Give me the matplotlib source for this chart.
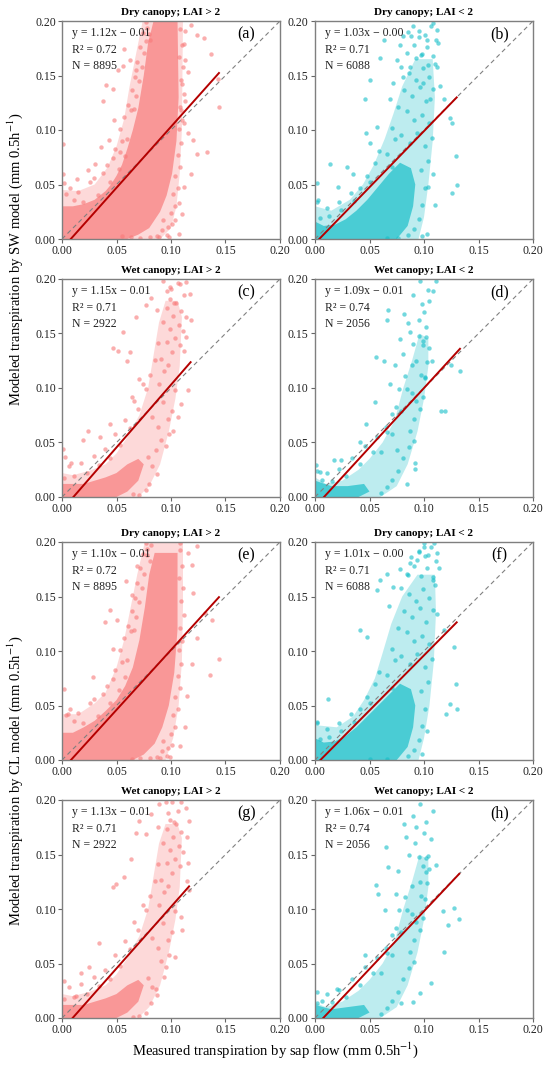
import numpy as np
import matplotlib
matplotlib.use('Agg')
import matplotlib.pyplot as plt
from matplotlib.ticker import FormatStrFormatter

plt.rcParams['font.family'] = ['Liberation Serif', 'DejaVu Serif']
plt.rcParams['mathtext.fontset'] = 'stix'

# panel headers and fit statistics (SW rows first, then CL rows)
letters = ['(a)', '(b)', '(c)', '(d)', '(e)', '(f)', '(g)', '(h)']
titles = ['Dry canopy; LAI > 2', 'Dry canopy; LAI < 2',
          'Wet canopy; LAI > 2', 'Wet canopy; LAI < 2'] * 2
slopes = [1.12, 1.03, 1.15, 1.09, 1.10, 1.01, 1.13, 1.06]
intercepts = [-0.009, -0.004, -0.012, -0.009, -0.009, -0.005, -0.011, -0.008]
eq_text = ['y = 1.12x \u2212 0.01', 'y = 1.03x \u2212 0.00', 'y = 1.15x \u2212 0.01', 'y = 1.09x \u2212 0.01',
           'y = 1.10x \u2212 0.01', 'y = 1.01x \u2212 0.00', 'y = 1.13x \u2212 0.01', 'y = 1.06x \u2212 0.01']
r2 = ['0.72', '0.71', '0.71', '0.74', '0.72', '0.71', '0.71', '0.74']
n_obs = ['8895', '6088', '2922', '2056', '8895', '6088', '2922', '2056']

# outline of the saturated part of each point cloud (measured, modeled)
core_a = [(0, 0), (0.060, 0), (0.070, 0.004), (0.080, 0.010), (0.090, 0.025), (0.096, 0.040), (0.101, 0.060),
          (0.105, 0.090), (0.107, 0.130), (0.106, 0.200), (0.084, 0.200), (0.079, 0.180), (0.075, 0.150),
          (0.070, 0.120), (0.065, 0.100), (0.060, 0.083), (0.055, 0.068), (0.050, 0.058), (0.045, 0.050),
          (0.040, 0.044), (0.030, 0.036), (0.020, 0.032), (0.010, 0.030), (0, 0.030)]
halo_a = [(0, 0), (0.090, 0), (0.100, 0.010), (0.105, 0.030), (0.108, 0.060), (0.110, 0.100), (0.111, 0.200),
          (0.074, 0.200), (0.068, 0.170), (0.062, 0.140), (0.057, 0.110), (0.050, 0.085), (0.042, 0.066),
          (0.030, 0.050), (0.015, 0.044), (0, 0.045)]
core_b = [(0, 0), (0.075, 0), (0.085, 0.012), (0.090, 0.030), (0.092, 0.050), (0.088, 0.065), (0.078, 0.070),
          (0.068, 0.060), (0.058, 0.048), (0.048, 0.036), (0.038, 0.026), (0.028, 0.018), (0.018, 0.013),
          (0.008, 0.012), (0, 0.016)]
halo_b = [(0, 0), (0.095, 0), (0.100, 0.020), (0.104, 0.050), (0.108, 0.090), (0.110, 0.130), (0.108, 0.165),
          (0.092, 0.165), (0.080, 0.140), (0.072, 0.115), (0.064, 0.092), (0.054, 0.068), (0.044, 0.050),
          (0.032, 0.036), (0.015, 0.026), (0, 0.030)]
core_c = [(0, 0), (0.050, 0), (0.060, 0.005), (0.070, 0.015), (0.075, 0.030), (0.070, 0.035), (0.060, 0.030),
          (0.050, 0.022), (0.040, 0.018), (0.030, 0.015), (0.020, 0.012), (0, 0.012)]
halo_c = [(0, 0), (0.070, 0), (0.080, 0.010), (0.090, 0.030), (0.098, 0.060), (0.104, 0.090), (0.108, 0.120),
          (0.110, 0.165), (0.106, 0.180), (0.095, 0.180), (0.089, 0.160), (0.084, 0.130), (0.079, 0.100),
          (0.071, 0.075), (0.060, 0.055), (0.050, 0.040), (0.040, 0.030), (0.025, 0.024), (0.010, 0.020),
          (0, 0.022)]
core_d = [(0, 0), (0.040, 0), (0.050, 0.005), (0.045, 0.012), (0.030, 0.010), (0.015, 0.010), (0, 0.015)]
halo_d = [(0, 0), (0.060, 0), (0.075, 0.010), (0.085, 0.030), (0.094, 0.060), (0.100, 0.090), (0.104, 0.120),
          (0.104, 0.145), (0.096, 0.150), (0.089, 0.125), (0.081, 0.100), (0.073, 0.070), (0.062, 0.050),
          (0.050, 0.035), (0.040, 0.025), (0.025, 0.015), (0.010, 0.012), (0, 0.018)]
core_e = [(0, 0), (0.065, 0), (0.075, 0.005), (0.085, 0.015), (0.092, 0.030), (0.098, 0.050), (0.103, 0.080),
          (0.106, 0.120), (0.106, 0.190), (0.085, 0.190), (0.080, 0.170), (0.076, 0.140), (0.071, 0.110),
          (0.065, 0.085), (0.058, 0.068), (0.050, 0.055), (0.040, 0.045), (0.030, 0.036), (0.020, 0.030),
          (0.010, 0.025), (0, 0.025)]
halo_e = [(0, 0), (0.095, 0), (0.102, 0.020), (0.107, 0.050), (0.110, 0.090), (0.111, 0.140), (0.111, 0.200),
          (0.076, 0.200), (0.069, 0.170), (0.063, 0.140), (0.057, 0.110), (0.050, 0.085), (0.040, 0.062),
          (0.030, 0.052), (0.015, 0.042), (0, 0.042)]
core_f = [(0, 0), (0.075, 0), (0.085, 0.012), (0.090, 0.030), (0.092, 0.050), (0.088, 0.065), (0.078, 0.070),
          (0.068, 0.060), (0.058, 0.050), (0.048, 0.040), (0.038, 0.030), (0.028, 0.022), (0.018, 0.017),
          (0.008, 0.016), (0, 0.020)]
halo_f = [(0, 0), (0.095, 0), (0.100, 0.020), (0.105, 0.050), (0.109, 0.090), (0.111, 0.135), (0.110, 0.170),
          (0.094, 0.170), (0.080, 0.150), (0.070, 0.125), (0.062, 0.098), (0.055, 0.075), (0.045, 0.055),
          (0.035, 0.040), (0.020, 0.030), (0, 0.032)]
core_g = [(0, 0), (0.050, 0), (0.060, 0.005), (0.070, 0.015), (0.075, 0.030), (0.070, 0.035), (0.060, 0.030),
          (0.050, 0.022), (0.040, 0.018), (0.030, 0.015), (0.020, 0.012), (0, 0.012)]
halo_g = [(0, 0), (0.070, 0), (0.080, 0.010), (0.090, 0.030), (0.098, 0.060), (0.104, 0.090), (0.108, 0.120),
          (0.110, 0.165), (0.106, 0.178), (0.095, 0.178), (0.089, 0.160), (0.084, 0.130), (0.079, 0.100),
          (0.071, 0.075), (0.060, 0.055), (0.050, 0.040), (0.040, 0.030), (0.025, 0.024), (0.010, 0.020),
          (0, 0.022)]
core_h = [(0, 0), (0.040, 0), (0.050, 0.005), (0.045, 0.012), (0.030, 0.010), (0.015, 0.008), (0, 0.012)]
halo_h = [(0, 0), (0.060, 0), (0.075, 0.010), (0.085, 0.030), (0.094, 0.060), (0.100, 0.090), (0.104, 0.120),
          (0.104, 0.145), (0.096, 0.150), (0.089, 0.125), (0.081, 0.100), (0.073, 0.070), (0.062, 0.050),
          (0.050, 0.035), (0.040, 0.025), (0.025, 0.015), (0.010, 0.010), (0, 0.014)]

# individual points
pts_a_x = [0.001, 0.001, 0.002, 0.014, 0.024, 0.030, 0.040, 0.038, 0.056, 0.057, 0.051, 0.047, 0.048, 0.043,
           0.036, 0.053, 0.077, 0.080, 0.062, 0.068, 0.113, 0.118, 0.124, 0.130, 0.137, 0.143, 0.144, 0.133,
           0.124, 0.120, 0.116, 0.112, 0.109, 0.113, 0.110, 0.116, 0.113, 0.112, 0.118, 0.112, 0.107, 0.110,
           0.104, 0.107, 0.098, 0.089, 0.081, 0.072, 0.063, 0.055]
pts_a_y = [0.087, 0.060, 0.051, 0.055, 0.063, 0.069, 0.141, 0.127, 0.159, 0.174, 0.155, 0.138, 0.109, 0.091,
           0.084, 0.080, 0.182, 0.188, 0.164, 0.155, 0.191, 0.196, 0.187, 0.184, 0.170, 0.147, 0.121, 0.080,
           0.078, 0.091, 0.097, 0.106, 0.118, 0.127, 0.142, 0.153, 0.164, 0.179, 0.060, 0.048, 0.033, 0.023,
           0.017, 0.005, 0.002, 0.002, 0.002, 0.001, 0.002, 0.003]
pts_b_x = [0.0015, 0.003, 0.0138, 0.0214, 0.029, 0.035, 0.047, 0.0505, 0.0566, 0.046, 0.0505, 0.060, 0.063,
           0.069, 0.072, 0.075, 0.081, 0.081, 0.087, 0.093, 0.098, 0.1025, 0.1086, 0.1117, 0.113, 0.112, 0.115,
           0.1056, 0.0995, 0.118, 0.124, 0.126, 0.129, 0.130, 0.126, 0.110, 0.1086, 0.104, 0.1025, 0.098, 0.066,
           0.076, 0.085, 0.095, 0.104, 0.090, 0.078]
pts_b_y = [0.051, 0.036, 0.069, 0.048, 0.066, 0.060, 0.097, 0.088, 0.103, 0.128, 0.146, 0.166, 0.183, 0.128,
           0.143, 0.164, 0.149, 0.186, 0.158, 0.166, 0.170, 0.183, 0.198, 0.192, 0.180, 0.158, 0.140, 0.128,
           0.143, 0.128, 0.111, 0.106, 0.076, 0.050, 0.042, 0.031, 0.060, 0.048, 0.005, 0.003, 0.001, 0.001,
           0.190, 0.185, 0.160, 0.195, 0.178]
pts_c_x = [0.001, 0.003, 0.0085, 0.019, 0.024, 0.0345, 0.044, 0.047, 0.056, 0.051, 0.062, 0.060, 0.064, 0.071,
           0.068, 0.077, 0.082, 0.0925, 0.100, 0.108, 0.114, 0.112, 0.117, 0.114, 0.118, 0.114, 0.112, 0.116,
           0.109, 0.106, 0.102, 0.086, 0.080, 0.077, 0.071, 0.065, 0.096, 0.103, 0.099, 0.087, 0.106]
pts_c_y = [0.044, 0.037, 0.031, 0.052, 0.061, 0.055, 0.067, 0.137, 0.151, 0.134, 0.133, 0.125, 0.092, 0.108,
           0.165, 0.176, 0.183, 0.198, 0.191, 0.195, 0.197, 0.185, 0.186, 0.165, 0.162, 0.147, 0.134, 0.098,
           0.085, 0.073, 0.061, 0.043, 0.012, 0.006, 0.0015, 0.003, 0.189, 0.178, 0.193, 0.172, 0.196]
pts_d_x = [0.001, 0.0046, 0.017, 0.024, 0.041, 0.047, 0.055, 0.056, 0.063, 0.067, 0.066, 0.069, 0.073, 0.081,
           0.082, 0.087, 0.095, 0.096, 0.098, 0.105, 0.108, 0.111, 0.102, 0.099, 0.090, 0.093, 0.101, 0.107,
           0.116, 0.119, 0.133, 0.125, 0.092, 0.092, 0.084, 0.075, 0.100, 0.090, 0.085, 0.104, 0.078]
pts_d_y = [0.029, 0.023, 0.034, 0.034, 0.050, 0.067, 0.087, 0.128, 0.125, 0.172, 0.162, 0.104, 0.121, 0.131,
           0.168, 0.151, 0.162, 0.198, 0.177, 0.180, 0.189, 0.198, 0.156, 0.143, 0.140, 0.125, 0.110, 0.125,
           0.079, 0.079, 0.116, 0.121, 0.031, 0.026, 0.012, 0.043, 0.170, 0.185, 0.160, 0.190, 0.145]
pts_e_x = [0.0015, 0.0055, 0.0286, 0.039, 0.044, 0.047, 0.050, 0.064, 0.059, 0.0685, 0.078, 0.082, 0.108,
           0.116, 0.124, 0.119, 0.120, 0.131, 0.1376, 0.144, 0.1355, 0.124, 0.119, 0.1146, 0.113, 0.108, 0.099,
           0.090, 0.081, 0.072, 0.064]
pts_e_y = [0.065, 0.042, 0.076, 0.127, 0.138, 0.102, 0.128, 0.151, 0.164, 0.178, 0.188, 0.1975, 0.199, 0.190,
           0.196, 0.179, 0.153, 0.1345, 0.128, 0.093, 0.078, 0.1115, 0.088, 0.059, 0.030, 0.013, 0.0025, 0.002,
           0.002, 0.002, 0.001]
pts_f_x = [0.0123, 0.0015, 0.0415, 0.0476, 0.0568, 0.060, 0.066, 0.072, 0.0676, 0.0876, 0.0937, 0.0998, 0.109,
           0.112, 0.1137, 0.112, 0.118, 0.1275, 0.129, 0.130, 0.124, 0.1198, 0.103, 0.098, 0.050, 0.066, 0.104,
           0.095, 0.085, 0.108, 0.078, 0.100]
pts_f_y = [0.056, 0.035, 0.119, 0.1127, 0.156, 0.165, 0.171, 0.159, 0.141, 0.1806, 0.1837, 0.199, 0.199, 0.190,
           0.176, 0.134, 0.119, 0.104, 0.070, 0.047, 0.0516, 0.0424, 0.027, 0.0055, 0.001, 0.001, 0.188, 0.192,
           0.170, 0.165, 0.175, 0.195]
pts_g_x = [0.0015, 0.013, 0.0177, 0.025, 0.034, 0.0466, 0.0496, 0.057, 0.063, 0.071, 0.068, 0.077, 0.0816,
           0.089, 0.095, 0.101, 0.109, 0.1135, 0.1166, 0.115, 0.116, 0.115, 0.1166, 0.109, 0.1105, 0.104, 0.0938,
           0.086, 0.0816, 0.077, 0.071, 0.065, 0.097, 0.103, 0.088, 0.106]
pts_g_y = [0.0335, 0.020, 0.041, 0.047, 0.0685, 0.120, 0.123, 0.129, 0.146, 0.181, 0.170, 0.169, 0.187, 0.196,
           0.198, 0.198, 0.198, 0.193, 0.181, 0.166, 0.142, 0.126, 0.117, 0.093, 0.0807, 0.056, 0.038, 0.027,
           0.0137, 0.0046, 0.0015, 0.001, 0.188, 0.180, 0.175, 0.190]
pts_h_x = [0.0015, 0.0198, 0.0457, 0.0563, 0.058, 0.0654, 0.067, 0.064, 0.0746, 0.076, 0.082, 0.0837, 0.0913,
           0.093, 0.096, 0.102, 0.108, 0.1065, 0.1035, 0.102, 0.096, 0.111, 0.117, 0.1218, 0.1279, 0.1324,
           0.1187, 0.1065, 0.096, 0.0898, 0.0791, 0.090, 0.100, 0.086]
pts_h_y = [0.0137, 0.027, 0.058, 0.122, 0.114, 0.157, 0.1385, 0.099, 0.114, 0.135, 0.178, 0.166, 0.161, 0.175,
           0.1963, 0.180, 0.190, 0.164, 0.149, 0.134, 0.125, 0.140, 0.098, 0.085, 0.1005, 0.091, 0.061, 0.032,
           0.023, 0.015, 0.0137, 0.185, 0.170, 0.150]

# loose points inside the thinner parts of the clouds, the same observations in the SW and CL panels
cloud_dry_hi_x = [0.004, 0.011, 0.007, 0.019, 0.026, 0.015, 0.033, 0.029, 0.038, 0.044, 0.041, 0.047, 0.052,
                  0.049, 0.055, 0.058, 0.053, 0.060, 0.057, 0.063, 0.061, 0.066, 0.064, 0.068, 0.067, 0.071,
                  0.069, 0.073, 0.072, 0.075, 0.074, 0.078, 0.081, 0.077, 0.108, 0.110, 0.107, 0.111, 0.109,
                  0.112, 0.108, 0.110, 0.107, 0.109, 0.106, 0.108, 0.104, 0.106, 0.102, 0.104, 0.100, 0.101,
                  0.097, 0.096, 0.092, 0.087, 0.093]
cloud_dry_hi_y = [0.041, 0.036, 0.047, 0.034, 0.052, 0.043, 0.040, 0.056, 0.061, 0.052, 0.068, 0.074, 0.064,
                  0.083, 0.090, 0.076, 0.101, 0.092, 0.112, 0.118, 0.123, 0.119, 0.137, 0.131, 0.149, 0.145,
                  0.162, 0.158, 0.176, 0.171, 0.189, 0.194, 0.183, 0.199, 0.193, 0.178, 0.167, 0.158, 0.146,
                  0.133, 0.121, 0.109, 0.101, 0.088, 0.077, 0.066, 0.058, 0.047, 0.041, 0.030, 0.024, 0.014,
                  0.011, 0.004, 0.008, 0.003, 0.017]
cloud_dry_lo_x = [0.084, 0.091, 0.097, 0.103, 0.108, 0.088, 0.095, 0.101, 0.106, 0.111, 0.079, 0.086, 0.093,
                  0.099, 0.105, 0.110, 0.082, 0.089, 0.096, 0.102, 0.108, 0.076, 0.084, 0.091, 0.098, 0.105,
                  0.071, 0.079, 0.087, 0.094, 0.101, 0.066, 0.073, 0.059, 0.071, 0.055, 0.050, 0.048, 0.041,
                  0.036, 0.033, 0.024, 0.022, 0.013, 0.011, 0.005, 0.002, 0.097, 0.101, 0.098, 0.095, 0.091,
                  0.085, 0.104, 0.107]
cloud_dry_lo_y = [0.171, 0.178, 0.169, 0.176, 0.168, 0.186, 0.191, 0.187, 0.195, 0.183, 0.158, 0.152, 0.146,
                  0.157, 0.149, 0.161, 0.137, 0.131, 0.139, 0.127, 0.138, 0.121, 0.117, 0.109, 0.114, 0.106,
                  0.102, 0.095, 0.088, 0.097, 0.085, 0.078, 0.092, 0.081, 0.066, 0.070, 0.052, 0.058, 0.047,
                  0.035, 0.042, 0.027, 0.034, 0.021, 0.028, 0.019, 0.034, 0.063, 0.047, 0.031, 0.018, 0.009,
                  0.004, 0.072, 0.093]
cloud_wet_hi_x = [0.089, 0.094, 0.091, 0.097, 0.101, 0.096, 0.104, 0.099, 0.107, 0.093, 0.102, 0.096, 0.105,
                  0.109, 0.099, 0.111, 0.108, 0.088, 0.085, 0.081, 0.077, 0.074, 0.070, 0.066, 0.062, 0.058,
                  0.053, 0.049, 0.044, 0.039, 0.034, 0.029, 0.023, 0.017, 0.011, 0.006, 0.002, 0.083, 0.088,
                  0.091, 0.095, 0.098, 0.101, 0.104, 0.087, 0.083, 0.079, 0.093, 0.097]
cloud_wet_hi_y = [0.104, 0.116, 0.127, 0.121, 0.133, 0.142, 0.146, 0.154, 0.158, 0.161, 0.166, 0.173, 0.178,
                  0.171, 0.182, 0.152, 0.139, 0.141, 0.126, 0.112, 0.099, 0.104, 0.081, 0.088, 0.063, 0.071,
                  0.048, 0.058, 0.036, 0.044, 0.029, 0.038, 0.022, 0.031, 0.019, 0.028, 0.017, 0.073, 0.064,
                  0.052, 0.047, 0.058, 0.079, 0.098, 0.021, 0.028, 0.037, 0.087, 0.072]
cloud_wet_lo_x = [0.061, 0.066, 0.071, 0.074, 0.079, 0.084, 0.089, 0.093, 0.097, 0.101, 0.103, 0.099, 0.095,
                  0.089, 0.083, 0.077, 0.071, 0.065, 0.057, 0.053, 0.046, 0.041, 0.034, 0.028, 0.022, 0.016,
                  0.011, 0.006, 0.002, 0.087, 0.091, 0.096, 0.099, 0.086, 0.081, 0.076, 0.071, 0.066, 0.061,
                  0.091, 0.105, 0.102]
cloud_wet_lo_y = [0.041, 0.060, 0.058, 0.083, 0.079, 0.099, 0.095, 0.088, 0.112, 0.109, 0.124, 0.139, 0.148,
                  0.121, 0.111, 0.099, 0.076, 0.064, 0.055, 0.041, 0.047, 0.030, 0.036, 0.019, 0.026, 0.015,
                  0.022, 0.016, 0.024, 0.061, 0.072, 0.081, 0.092, 0.046, 0.036, 0.024, 0.016, 0.009, 0.004,
                  0.051, 0.137, 0.147]

cores = [core_a, core_b, core_c, core_d, core_e, core_f, core_g, core_h]
halos = [halo_a, halo_b, halo_c, halo_d, halo_e, halo_f, halo_g, halo_h]
pts_x = [pts_a_x, pts_b_x, pts_c_x, pts_d_x, pts_e_x, pts_f_x, pts_g_x, pts_h_x]
pts_y = [pts_a_y, pts_b_y, pts_c_y, pts_d_y, pts_e_y, pts_f_y, pts_g_y, pts_h_y]
cloud_x = [cloud_dry_hi_x, cloud_dry_lo_x, cloud_wet_hi_x, cloud_wet_lo_x]
cloud_y = [cloud_dry_hi_y, cloud_dry_lo_y, cloud_wet_hi_y, cloud_wet_lo_y]

red = '#F87878'
cyan = '#14BEC8'
tick_vals = [0.0, 0.05, 0.10, 0.15, 0.20]

fig = plt.figure(figsize=(5.5, 10.66), dpi=100)
lefts = [62 / 550, 315 / 550]
bottoms = [1 - 239 / 1066, 1 - 497 / 1066, 1 - 760 / 1066, 1 - 1018 / 1066]
w = 218 / 550
h = 218 / 1066

for i in range(8):
    ax = fig.add_axes([lefts[i % 2], bottoms[i // 2], w, h])
    col = red if i % 2 == 0 else cyan

    halo = np.array(halos[i])
    core = np.array(cores[i])
    ax.fill(halo[:, 0], halo[:, 1], color=col, alpha=0.28, lw=0, zorder=1)
    ax.fill(core[:, 0], core[:, 1], color=col, alpha=0.68, lw=0, zorder=1)
    ax.scatter(cloud_x[i % 4], cloud_y[i % 4], s=10, color=col, alpha=0.6, lw=0, zorder=2)
    ax.scatter(pts_x[i], pts_y[i], s=10, color=col, alpha=0.6, lw=0, zorder=2)

    ax.plot([0, 0.2], [0, 0.2], color='#808080', lw=0.8, ls=(0, (4, 3)), zorder=3)
    xf = np.array([0, max(pts_x[i])])
    ax.plot(xf, slopes[i] * xf + intercepts[i], color='#B40000', lw=1.4, zorder=4)

    ax.set_xlim(0, 0.2)
    ax.set_ylim(0, 0.2)
    ax.set_xticks(tick_vals)
    ax.set_yticks(tick_vals)
    ax.xaxis.set_major_formatter(FormatStrFormatter('%.2f'))
    ax.yaxis.set_major_formatter(FormatStrFormatter('%.2f'))
    ax.tick_params(labelsize=8.5, length=3, width=0.8, color='#666666', labelcolor='#222222', pad=1.5)
    for sp in ax.spines.values():
        sp.set_color('#7f7f7f')
        sp.set_linewidth(1.0)

    ax.set_title(titles[i], fontsize=8, fontweight='bold', pad=4)
    ax.text(0.045, 0.945, eq_text[i], transform=ax.transAxes, fontsize=8.5, va='center', color='#222222')
    ax.text(0.045, 0.868, 'R\u00b2 = ' + r2[i], transform=ax.transAxes, fontsize=8.5, va='center', color='#222222')
    ax.text(0.045, 0.795, 'N = ' + n_obs[i], transform=ax.transAxes, fontsize=8.5, va='center', color='#222222')
    ax.text(0.845, 0.94, letters[i], transform=ax.transAxes, fontsize=11.5, ha='center', va='center')

fig.text(0.028, 1 - 259 / 1066, r'Modeled transpiration by SW model (mm 0.5h$^{-1}$)',
         rotation=90, ha='center', va='center', fontsize=10.5)
fig.text(0.028, 1 - 781 / 1066, r'Modeled transpiration by CL model (mm 0.5h$^{-1}$)',
         rotation=90, ha='center', va='center', fontsize=10.5)
fig.text(0.5, 1 - 1050 / 1066, r'Measured transpiration by sap flow (mm 0.5h$^{-1}$)',
         ha='center', va='center', fontsize=10.5)

fig.savefig('out.png', dpi=100)
